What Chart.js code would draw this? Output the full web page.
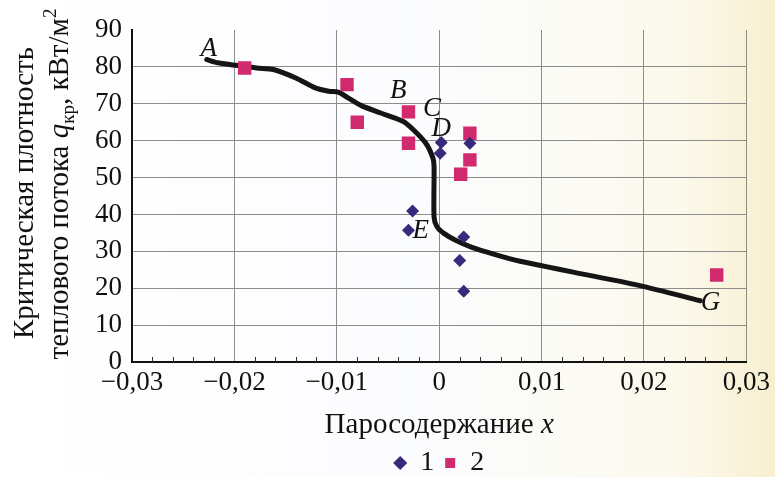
<!DOCTYPE html>
<html>
<head>
<meta charset="utf-8">
<script src="https://cdn.jsdelivr.net/npm/chart.js@4/dist/chart.umd.min.js"></script>
<style>
html, body { margin: 0; padding: 0; }
body {
    width: 775px; height: 477px; overflow: hidden;
    background: linear-gradient(90deg, #ffffff 0%, #fbfcfe 55%, #fcf9ec 88%, #f8efcf 100%);
}
canvas { display: block; }
</style>
</head>
<body>
<canvas id="chart" width="775" height="477"></canvas>
<script>
// axis ticks
const xTicks = [-0.03, -0.02, -0.01, 0, 0.01, 0.02, 0.03];
const yTicks = [0, 10, 20, 30, 40, 50, 60, 70, 80, 90];

// curve A-B-C-D-E-G
const curveX = [-0.0227, -0.0216, -0.0178, -0.0162, -0.0140, -0.0121, -0.0108, -0.0098, -0.0089, -0.0076,
                -0.0057, -0.0035, -0.0025, -0.0013, -0.0006, -0.0005, -0.0005, -0.0002, 0.0005, 0.0016,
                0.0032, 0.0054, 0.0079, 0.0102, 0.0132, 0.0196, 0.0255];
const curveY = [82.0, 81.1, 79.7, 79.3, 77.0, 74.3, 73.4, 73.1, 71.6, 69.5,
                67.5, 65.2, 62.9, 59.3, 55.2, 52.9, 39.3, 36.6, 34.8, 33.0,
                31.1, 29.2, 27.3, 26.0, 24.3, 20.7, 16.6];

// series 1 (diamonds)
const set1X = [0.0002, 0.0001, 0.0030, -0.0026, -0.0030, 0.0024, 0.0020, 0.0024];
const set1Y = [59.5, 56.6, 59.3, 40.9, 35.7, 33.9, 27.5, 19.2];

// series 2 (squares)
const set2X = [-0.0190, -0.0090, -0.0080, -0.0030, -0.0030, 0.0030, 0.0030, 0.0021, 0.0271];
const set2Y = [79.7, 75.2, 65.0, 67.8, 59.3, 62.0, 54.8, 50.9, 23.6];

// point letters on the curve
const markNames = ['A', 'B', 'C', 'D', 'E', 'G'];
const markX = [-0.0225, -0.0040, -0.0007, 0.0002, -0.0018, 0.0265];
const markY = [84.8, 73.4, 68.5, 63.1, 35.6, 16.0];

const serif = "'Liberation Serif', 'Times New Roman', serif";

function pts(xs, ys) {
    return xs.map((x, i) => ({x: x, y: ys[i]}));
}

function fmtX(v) {
    if (Math.abs(v) < 1e-9) return '0';
    return (v < 0 ? '\u2212' : '') + Math.abs(v).toFixed(2).replace('.', ',');
}

const extras = {
    id: 'extras',
    afterDraw(chart) {
        const ctx = chart.ctx;
        const xs = chart.scales.x, ys = chart.scales.y;
        const area = chart.chartArea;

        // minor ticks on x axis (inside)
        ctx.save();
        ctx.strokeStyle = '#333';
        ctx.lineWidth = 1;
        for (let i = 0; i <= 30; i++) {
            if (i % 5 === 0) continue;
            const px = Math.round(xs.getPixelForValue(-0.03 + i * 0.002)) + 0.5;
            ctx.beginPath();
            ctx.moveTo(px, area.bottom);
            ctx.lineTo(px, area.bottom - 5);
            ctx.stroke();
        }
        ctx.restore();

        // letters
        ctx.save();
        ctx.fillStyle = '#111';
        ctx.font = 'italic 27px ' + serif;
        ctx.textAlign = 'center';
        ctx.textBaseline = 'middle';
        markNames.forEach((n, i) => {
            ctx.fillText(n, xs.getPixelForValue(markX[i]), ys.getPixelForValue(markY[i]));
        });
        ctx.restore();

        // x axis title
        ctx.save();
        ctx.fillStyle = '#111';
        ctx.textBaseline = 'alphabetic';
        const t1 = 'Паросодержание ', t2 = 'x';
        ctx.font = '29px ' + serif;
        const w1 = ctx.measureText(t1).width;
        ctx.font = 'italic 29px ' + serif;
        const w2 = ctx.measureText(t2).width;
        const cx = (area.left + area.right) / 2;
        let sx = cx - (w1 + w2) / 2;
        ctx.font = '29px ' + serif;
        ctx.fillText(t1, sx, area.bottom + 71);
        ctx.font = 'italic 29px ' + serif;
        ctx.fillText(t2, sx + w1, area.bottom + 71);
        ctx.restore();

        // y axis title, two rotated lines
        const cy = (area.top + area.bottom) / 2;
        ctx.save();
        ctx.fillStyle = '#111';
        ctx.translate(0, cy);
        ctx.rotate(-Math.PI / 2);
        ctx.textBaseline = 'alphabetic';
        ctx.textAlign = 'center';
        ctx.font = '29px ' + serif;
        ctx.fillText('Критическая плотность', 3, 33);

        const parts = [
            {t: 'теплового потока ', f: '29px ' + serif, dy: 0},
            {t: 'q', f: 'italic 29px ' + serif, dy: 0},
            {t: 'кр', f: '19px ' + serif, dy: 6},
            {t: ', кВт/м', f: '29px ' + serif, dy: 0},
            {t: '2', f: '19px ' + serif, dy: -12}
        ];
        ctx.textAlign = 'left';
        let total = 0;
        parts.forEach(p => { ctx.font = p.f; p.w = ctx.measureText(p.t).width; total += p.w; });
        let u = 12 - total / 2;
        parts.forEach(p => {
            ctx.font = p.f;
            ctx.fillText(p.t, u, 68 + p.dy);
            u += p.w;
        });
        ctx.restore();
    }
};

new Chart(document.getElementById('chart'), {
    type: 'scatter',
    data: {
        datasets: [
            {
                label: '1',
                data: pts(set1X, set1Y),
                pointStyle: 'rectRot',
                pointRadius: 6.5,
                pointBackgroundColor: '#372a7c',
                backgroundColor: '#372a7c',
                pointBorderWidth: 0,
                borderWidth: 0,
                showLine: false
            },
            {
                label: '2',
                data: pts(set2X, set2Y),
                pointStyle: 'rect',
                pointRadius: 9.5,
                pointBackgroundColor: '#d12a6f',
                backgroundColor: '#d12a6f',
                pointBorderWidth: 0,
                borderWidth: 0,
                showLine: false
            },
            {
                label: 'curve',
                data: pts(curveX, curveY),
                showLine: true,
                borderColor: '#151515',
                borderWidth: 5,
                pointRadius: 0,
                tension: 0.25,
                borderCapStyle: 'round',
                borderJoinStyle: 'round'
            }
        ]
    },
    options: {
        responsive: false,
        animation: false,
        layout: {padding: {top: 30, right: 23, left: 0, bottom: -10}},
        plugins: {
            tooltip: {enabled: false},
            legend: {
                position: 'bottom',
                fullSize: false,
                labels: {
                    usePointStyle: true,
                    boxWidth: 12,
                    boxHeight: 10,
                    padding: 10,
                    color: '#111',
                    font: {family: serif, size: 28},
                    filter: item => item.datasetIndex < 2
                }
            }
        },
        scales: {
            x: {
                type: 'linear',
                min: -0.03,
                max: 0.03,
                afterBuildTicks: s => { s.ticks = xTicks.map(v => ({value: v})); },
                afterFit: s => { s.height = 77; },
                ticks: {
                    color: '#111',
                    font: {family: serif, size: 27},
                    padding: 5,
                    maxRotation: 0,
                    callback: v => fmtX(v)
                },
                grid: {color: '#8c8c8c', lineWidth: 1, drawTicks: false},
                border: {color: '#111', width: 2}
            },
            y: {
                min: 0,
                max: 90,
                afterBuildTicks: s => { s.ticks = yTicks.map(v => ({value: v})); },
                afterFit: s => { s.width = 132; },
                ticks: {
                    color: '#111',
                    font: {family: serif, size: 27},
                    padding: 10
                },
                grid: {
                    color: c => (c.tick && (c.tick.value === 0 || c.tick.value === 90)) ? 'rgba(0,0,0,0)' : '#8c8c8c',
                    lineWidth: 1,
                    drawTicks: false
                },
                border: {color: '#111', width: 2}
            }
        }
    },
    plugins: [extras]
});
</script>
</body>
</html>
